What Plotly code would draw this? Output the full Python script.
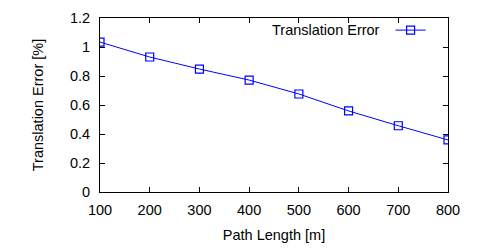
import plotly.graph_objects as go

path_length = [100, 200, 300, 400, 500, 600, 700, 800]
translation_error = [1.034, 0.931, 0.848, 0.772, 0.676, 0.559, 0.457, 0.359]
series_name = "Translation Error"
x_ticks = [100, 200, 300, 400, 500, 600, 700, 800]
y_ticks = [0, 0.2, 0.4, 0.6, 0.8, 1, 1.2]
y_ticktext = ["0", "0.2", "0.4", "0.6", "0.8", "1", "1.2"]

FONT = "Liberation Sans, Arial, sans-serif"
FS = 14.5

fig = go.Figure()
fig.add_trace(go.Scatter(
    x=path_length, y=translation_error, mode="lines+markers",
    name=" ",
    line=dict(color="#0000ff", width=1),
    marker=dict(symbol="square-open", size=8, color="#0000ff", line=dict(width=1.2, color="#0000ff")),
    showlegend=True,
))

fig.add_annotation(
    text=series_name, xref="paper", yref="paper", x=0.81, y=0.93,
    xanchor="right", yanchor="middle", showarrow=False,
    font=dict(family=FONT, size=FS, color="#000000"),
)

axis_common = dict(
    showline=True, linecolor="#000000", linewidth=1, mirror="ticks",
    ticks="inside", ticklen=5, tickcolor="#000000", tickwidth=1,
    showgrid=False, zeroline=False, automargin=False,
    tickfont=dict(family=FONT, size=FS, color="#000000"),
)

fig.update_layout(
    width=500, height=250,
    margin=dict(l=100, r=52, t=18, b=58),
    paper_bgcolor="white", plot_bgcolor="white",
    font=dict(family=FONT, size=FS, color="#000000"),
    xaxis=dict(range=[100, 800], tickvals=x_ticks, ticklabelstandoff=5,
               title=dict(text="Path Length [m]", standoff=12, font=dict(family=FONT, size=FS)),
               **axis_common),
    yaxis=dict(range=[0, 1.2], tickvals=y_ticks, ticktext=y_ticktext, ticklabelstandoff=6,
               title=dict(text="Translation Error [%]", standoff=22, font=dict(family=FONT, size=FS)),
               **axis_common),
    showlegend=True,
    legend=dict(x=0.835, y=0.93, xanchor="left", yanchor="middle",
                bgcolor="rgba(0,0,0,0)", borderwidth=0,
                font=dict(family=FONT, size=FS), itemwidth=30),
)

fig.write_html("out.html")
